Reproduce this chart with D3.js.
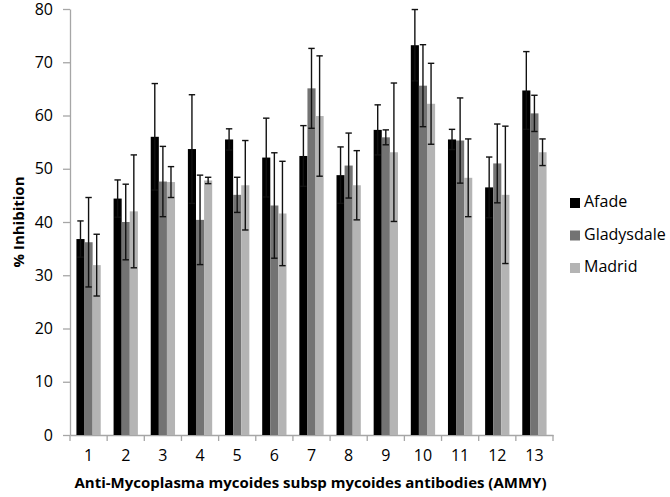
<!DOCTYPE html>
<html>
<head>
<meta charset="utf-8">
<script src="https://cdn.jsdelivr.net/npm/d3@7"></script>
<style>
  body { margin: 0; background: #fff; }
  text { font-family: "Open Sans", "Liberation Sans", Arial, sans-serif; }
</style>
</head>
<body>
<div id="chart"></div>
<script>
  let categories = ["1", "2", "3", "4", "5", "6", "7", "8", "9", "10", "11", "12", "13"];
  let seriesNames = ["Afade", "Gladysdale", "Madrid"];

  let afade = [36.8, 44.4, 56.0, 53.7, 55.5, 52.1, 52.4, 48.8, 57.3, 73.2, 55.5, 46.5, 64.7];
  let afadeErr = [3.4, 3.5, 10.0, 10.2, 2.0, 7.4, 5.7, 5.3, 4.7, 6.7, 1.9, 5.7, 7.3];
  let gladysdale = [36.2, 40.0, 47.6, 40.4, 45.1, 43.1, 65.1, 50.6, 55.9, 65.6, 55.3, 51.0, 60.4];
  let gladysdaleErr = [8.4, 7.1, 6.6, 8.4, 3.3, 9.9, 7.5, 6.1, 1.4, 7.7, 8.0, 7.4, 3.4];
  let madrid = [31.9, 42.0, 47.5, 47.8, 46.9, 41.6, 59.9, 46.9, 53.1, 62.2, 48.3, 45.1, 53.1];
  let madridErr = [5.8, 10.6, 2.9, 0.6, 8.4, 9.8, 11.3, 6.5, 13.0, 7.6, 7.3, 12.9, 2.5];

  let yTicks = [0, 10, 20, 30, 40, 50, 60, 70, 80];

  let colors = ["#000000", "#737373", "#b4b4b4"];

  let width = 670, height = 497;
  let margin = {top: 9, right: 117, bottom: 62, left: 70};

  let svg = d3.select("#chart").append("svg")
    .attr("width", width)
    .attr("height", height);

  let plotW = width - margin.left - margin.right,
      plotH = height - margin.top - margin.bottom;

  let g = svg.append("g").attr("transform", `translate(${margin.left},${margin.top})`);

  let x0 = d3.scaleBand().domain(categories).range([0, plotW]).padding(0);
  let gap = x0.bandwidth() * 0.173;
  let x1 = d3.scaleBand().domain(seriesNames).range([gap, x0.bandwidth() - gap]).padding(0);
  let y = d3.scaleLinear().domain([0, 80]).range([plotH, 0]);

  let data = categories.map(function(c, i) {
    return {
      cat: c,
      values: [
        {name: "Afade", v: afade[i], e: afadeErr[i]},
        {name: "Gladysdale", v: gladysdale[i], e: gladysdaleErr[i]},
        {name: "Madrid", v: madrid[i], e: madridErr[i]}
      ]
    };
  });

  // axes
  let yAxis = g.append("g")
    .call(d3.axisLeft(y).tickValues(yTicks).tickSize(7).tickPadding(10).tickSizeOuter(0));
  yAxis.select(".domain").attr("stroke", "#a6a6a6").attr("stroke-width", 1.3);
  yAxis.selectAll(".tick line").attr("stroke", "#a6a6a6").attr("stroke-width", 1.3);
  yAxis.selectAll("text").attr("font-size", "16px").attr("fill", "#000")
    .style("font-family", "'Open Sans', sans-serif");

  let xAxis = g.append("g")
    .attr("transform", `translate(0,${plotH})`)
    .call(d3.axisBottom(x0).tickSize(0).tickPadding(15).tickSizeOuter(0));
  xAxis.select(".domain").attr("stroke", "#a6a6a6").attr("stroke-width", 1.3);
  xAxis.selectAll("text").attr("font-size", "16px").attr("fill", "#000")
    .style("font-family", "'Open Sans', sans-serif");

  let bounds = categories.map(c => x0(c)).concat([x0(categories[categories.length - 1]) + x0.bandwidth()]);
  g.append("g").selectAll("line")
    .data(bounds)
    .enter().append("line")
      .attr("x1", d => d).attr("x2", d => d)
      .attr("y1", plotH).attr("y2", plotH + 6)
      .attr("stroke", "#a6a6a6")
      .attr("stroke-width", 1.3);

  // bars
  let groups = g.append("g").selectAll("g")
    .data(data)
    .enter().append("g")
      .attr("transform", d => `translate(${x0(d.cat)},0)`);

  groups.selectAll("rect")
    .data(d => d.values)
    .enter().append("rect")
      .attr("x", d => x1(d.name))
      .attr("y", d => y(d.v))
      .attr("width", x1.bandwidth())
      .attr("height", d => plotH - y(d.v))
      .attr("fill", (d, i) => colors[i]);

  // error bars
  let capW = 3.2;
  let err = groups.selectAll("g.err")
    .data(d => d.values)
    .enter().append("g")
      .attr("class", "err")
      .attr("transform", d => `translate(${x1(d.name) + x1.bandwidth() / 2},0)`)
      .attr("stroke", "#111")
      .attr("stroke-width", 1.4);

  err.append("line")
    .attr("x1", 0).attr("x2", 0)
    .attr("y1", d => y(d.v + d.e))
    .attr("y2", d => y(d.v - d.e));
  err.append("line")
    .attr("x1", -capW).attr("x2", capW)
    .attr("y1", d => y(d.v + d.e))
    .attr("y2", d => y(d.v + d.e));
  err.append("line")
    .attr("x1", -capW).attr("x2", capW)
    .attr("y1", d => y(d.v - d.e))
    .attr("y2", d => y(d.v - d.e));

  // axis titles
  svg.append("text")
    .attr("transform", `translate(20,${margin.top + plotH / 2}) rotate(-90)`)
    .attr("text-anchor", "middle")
    .attr("dominant-baseline", "middle")
    .attr("font-size", "15px")
    .attr("font-weight", "700")
    .text("% Inhibition");

  svg.append("text")
    .attr("x", margin.left + plotW / 2 - 1)
    .attr("y", 488)
    .attr("text-anchor", "middle")
    .attr("font-size", "15px")
    .attr("font-weight", "700")
    .text("Anti-Mycoplasma mycoides subsp mycoides antibodies (AMMY)");

  // legend
  let legend = svg.append("g").attr("transform", "translate(570,203)");
  let items = legend.selectAll("g")
    .data(seriesNames)
    .enter().append("g")
      .attr("transform", (d, i) => `translate(0,${i * 32.5})`);
  items.append("rect")
    .attr("x", 0).attr("y", -5)
    .attr("width", 10).attr("height", 10)
    .attr("fill", (d, i) => colors[i]);
  items.append("text")
    .attr("x", 14)
    .attr("y", 0)
    .attr("dominant-baseline", "middle")
    .attr("font-size", "16px")
    .text(d => d);
</script>
</body>
</html>
